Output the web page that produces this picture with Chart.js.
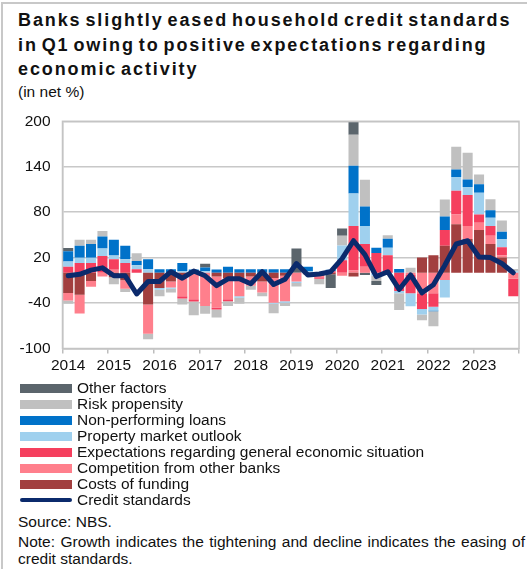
<!DOCTYPE html>
<html>
<head>
<meta charset="utf-8">
<script src="https://cdn.jsdelivr.net/npm/chart.js@4.4.1/dist/chart.umd.min.js"></script>
<style>
  body { margin: 0; width: 527px; height: 569px; position: relative; overflow: hidden; background: #fff;
         font-family: 'Liberation Sans', Arial, sans-serif; color: #111; }
  .frame { position: absolute; left: 1px; top: 2px; right: 0; bottom: 0;
           border-left: 2px solid #c8c8c8; border-top: 2px solid #c8c8c8; }
  #title { position: absolute; left: 18px; top: 8px; width: 520px; font-weight: bold; font-size: 18px;
           line-height: 24.5px; letter-spacing: 1.9px; word-spacing: -3px; white-space: nowrap; }
  #unit { position: absolute; left: 18px; top: 83px; font-size: 15.5px; line-height: 18px; }
  #chartBox { position: absolute; left: 0; top: 100px; width: 527px; height: 280px; }
  #legend { position: absolute; left: 20px; top: 380px; font-size: 15.5px; }
  .row { display: flex; align-items: center; height: 16px; }
  .sw { width: 52px; height: 9px; margin-right: 5px; }
  .sw.line { height: 4px; border-radius: 2px; }
  #source { position: absolute; left: 18px; top: 513px; font-size: 15.5px; line-height: 18px; }
  #note { position: absolute; left: 18px; top: 534px; width: 507px; font-size: 15.5px; line-height: 16.5px;
          text-align: justify; text-align-last: left; }
</style>
</head>
<body>
<div class="frame"></div>
<div id="title">Banks slightly eased household credit standards<br>in Q1 owing to positive expectations regarding<br>economic activity</div>
<div id="unit">(in net %)</div>
<div id="chartBox"><canvas id="chart" width="527" height="280"></canvas></div>
<div id="legend"></div>
<div id="source">Source: NBS.</div>
<div id="note">Note: Growth indicates the tightening and decline indicates the easing of credit standards.</div>

<script>
// quarterly, 2014 Q1 - 2023 Q4; only Q1 carries the year label
var years = ['2014', '2015', '2016', '2017', '2018', '2019', '2020', '2021', '2022', '2023'];
var quarters = years.flatMap(function (y) { return [y, '', '', '']; });
var yTicks = [-100, -40, 20, 80, 140, 200];

// contributions of factors (net %)
var costsOfFunding = [-26.7, -28.9, -10.8, 0, -6, -10, 0, -41.8, -20, -11.6, -5, 0, 0, -5, -7, -7.3, -5, -11.6, -7, -4,
  0, -2, -4, -2, 0, -5, 0, 0, 0, 0, 0, 20, 23, 35.7, 63.9, 44.5, 56.5, 38, 20, 0];
var competition = [-9.9, -25, -7.7, -5, 4, -11, 0, -38.8, 0, -7.8, -26, -35, -44, -41, -28, -23.7, -12, -14.3, -32.6, -33.5,
  -11.6, 0, -2, 0, -4, 3, 8, 0, 0, 0, -3, -27, -27, -9.5, 12.9, 17.2, 9.5, 10.8, 3, -8];
var expectations = [7.8, 12.9, 12.9, 22, 13.7, 12.9, 4.7, 0, 0, 0, -3, -3, 0, -2.6, -2.5, 0, 0, 0, 0, 0,
  0, 0, -2, 2, 16.5, 58.7, 30, 26, 23, -24, -24, -20.7, -18, 20.7, 31.4, 40.9, 10.8, 12.9, 10.8, -23];
var propertyMarket = [7.2, 6.9, 6.9, 10, 5.2, 4.8, 5.2, 4.7, -2.4, -1.6, 2.2, 0, 2, 0, 0, -2, 0, 0, -1.4, -2.1,
  -2, 2.3, 0, 0, 19.4, 43.1, 23.7, -4, 10, -3, -17.2, -7.3, -4.7, -23, 18.1, 10.8, 28.8, 10.8, 10.8, 2];
var nonPerforming = [13.4, 16, 18.1, 16, 20.7, 18.1, 5.6, 13, 4.7, 4.7, 10.7, 4.3, 5, 4.3, 8, 4.7, 4.7, 4.7, 4.7, 4.7,
  0, 5.5, 0, 2, 0, 36.6, 25.8, 7, 12, 5, 0, 0, -1, 18, 9.9, 9.9, 11.2, 9.9, 9.5, 0];
var riskPropensity = [-4.4, 7.7, 5.6, 7.3, -9, -4.4, 10.4, -7.3, -8.6, -4.9, -7.8, -18, -10, -10.4, -6.5, -8, -5.4, -5.1, -12.4, -4.4,
  -4.5, 0, -7, 0, 12.9, 40.9, 35.4, -7, 4.5, -22, 6.5, -7.7, -20, 22.4, 30.1, 35.1, 12.9, 14.6, 15, 3];
var otherFactors = [4.4, 0, 0, 0, 0, 0, 0, 0, 0, 0, 0, 0, 5, 0, 0, 0, 0, 0, 0, 0,
  32, 0, 0, -18, 9.5, 16.4, -3, -5, 0, 0, 0, 0, 0, 0, 0, 0, 0, 0, 0, 0];
var creditStandards = [-4, -2, 3.5, 6.5, -4, -4, -28, -11.5, -11.5, 1.4, -7.2, 2.3, -4, -17, -8, -8, -14.5, 1.4, -15.5, -8.5,
  12.2, -2.9, -1.6, 1.4, 18.6, 42.3, 24, -5, 1.4, -22, -2.9, -26.5, -15.8, 10, 38, 42.3, 20.8, 20, 12.2, 0];

var FONT = "'Liberation Sans', Arial, sans-serif";

// stacking order: first series sits next to zero
var factors = [
  { label: 'Costs of funding', data: costsOfFunding, color: '#a23f3f' },
  { label: 'Competition from other banks', data: competition, color: '#ff7f8c' },
  { label: 'Expectations regarding general economic situation', data: expectations, color: '#f53f5e' },
  { label: 'Property market outlook', data: propertyMarket, color: '#9fd0ee' },
  { label: 'Non-performing loans', data: nonPerforming, color: '#0072c9' },
  { label: 'Risk propensity', data: riskPropensity, color: '#c0c0c0' },
  { label: 'Other factors', data: otherFactors, color: '#5b656c' }
];
var lineColor = '#0b2a6c';

var datasets = factors.map(function (f) {
  return {
    type: 'bar', label: f.label, data: f.data, backgroundColor: f.color,
    borderWidth: 0, stack: 'factors', order: 1,
    barPercentage: 0.88, categoryPercentage: 1
  };
});
datasets.push({
  type: 'line', label: 'Credit standards', data: creditStandards, stack: 'standards', order: 0,
  borderColor: lineColor, borderWidth: 5, pointRadius: 0, tension: 0,
  borderJoinStyle: 'round', borderCapStyle: 'round', fill: false
});

// grey frame round the plot area
var plotFrame = {
  id: 'plotFrame',
  beforeDatasetsDraw: function (chart) {
    var a = chart.chartArea, c = chart.ctx;
    c.save();
    c.strokeStyle = '#c4c4c4';
    c.lineWidth = 1.5;
    c.strokeRect(a.left, a.top, a.right - a.left, a.bottom - a.top);
    c.restore();
  }
};

new Chart(document.getElementById('chart'), {
  type: 'bar',
  data: { labels: quarters, datasets: datasets },
  options: {
    responsive: false,
    animation: false,
    layout: { padding: { top: 16, right: 8, left: 0, bottom: 0 } },
    plugins: { legend: { display: false }, tooltip: { enabled: false } },
    scales: {
      x: {
        stacked: true,
        afterFit: function (s) { s.height = 31.5; },
        ticks: { autoSkip: false, maxRotation: 0, padding: 3, color: '#111', font: { family: FONT, size: 15.5 } },
        grid: {
          drawOnChartArea: false, tickLength: 5, lineWidth: 1.5,
          color: function (ctx) { return (ctx.index === undefined || ctx.index % 4 === 0) ? '#bdbdbd' : 'rgba(0,0,0,0)'; }
        },
        border: { color: '#c4c4c4', width: 1.5 }
      },
      y: {
        stacked: true,
        min: -100, max: 200,
        afterFit: function (s) { s.width = 62.5; },
        afterBuildTicks: function (s) { s.ticks = yTicks.map(function (v) { return { value: v }; }); },
        ticks: { padding: 12, color: '#111', font: { family: FONT, size: 15.5 } },
        grid: { color: '#c8c8c8', lineWidth: 1.5, drawTicks: false },
        border: { color: '#c4c4c4', width: 1.5 }
      }
    }
  },
  plugins: [plotFrame]
});

// legend, top entry is the last stacked factor
var legend = document.getElementById('legend');
factors.slice().reverse().forEach(function (f) {
  var row = document.createElement('div');
  row.className = 'row';
  row.innerHTML = '<span class="sw" style="background:' + f.color + '"></span><span>' + f.label + '</span>';
  legend.appendChild(row);
});
var lineRow = document.createElement('div');
lineRow.className = 'row';
lineRow.innerHTML = '<span class="sw line" style="background:' + lineColor + '"></span><span>Credit standards</span>';
legend.appendChild(lineRow);
</script>
</body>
</html>
